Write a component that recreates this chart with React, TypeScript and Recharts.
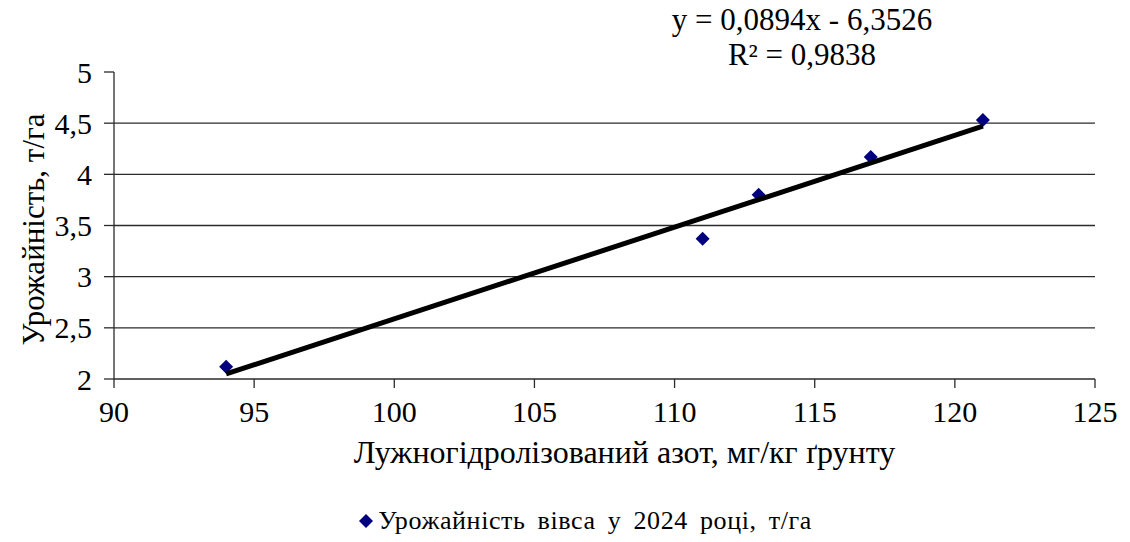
import { ComposedChart, Scatter, XAxis, YAxis, ReferenceLine, Legend } from 'recharts';

// нітроген vs урожайність вівса
const nitrogen = [94, 111, 113, 117, 121];
const oatYield = [2.12, 3.37, 3.8, 4.17, 4.53];
const trendX = [94, 121];
const trendY = [2.05, 4.47];
const xTicks = [90, 95, 100, 105, 110, 115, 120, 125];
const yTicks = [2, 2.5, 3, 3.5, 4, 4.5, 5];
const gridLines = [2.5, 3, 3.5, 4, 4.5];
const seriesName = 'Урожайність вівса у 2024 році, т/га';
const xTitle = 'Лужногідролізований азот, мг/кг ґрунту';
const yTitle = 'Урожайність, т/га';
const equation = 'y = 0,0894x - 6,3526';
const rSquared = 'R² = 0,9838';

const points = nitrogen.map((x, i) => ({ x, y: oatYield[i] }));
const trend = trendX.map((x, i) => ({ x, y: trendY[i] }));

// serif first, sans fallback if it's not there
const FONT = "'Liberation Serif', 'Times New Roman', 'DejaVu Serif', serif";
const AXIS = '#2b2b2b';

const Diamond = (props: any) => {
  const { cx, cy } = props;
  const r = 7;
  return (
    <path
      d={`M${cx},${cy - r} L${cx + r},${cy} L${cx},${cy + r} L${cx - r},${cy} Z`}
      fill="#000080"
    />
  );
};

const NoDot = () => <g />;

const fmt = (v: number) => String(v).replace('.', ',');

const YTitle = (props: any) => {
  const vb = props.viewBox || { x: 0, y: 72, height: 307 };
  const cx = vb.x + 33;
  const cy = vb.y + vb.height / 2 + 4;
  return (
    <text
      x={cx}
      y={cy}
      transform={`rotate(-90, ${cx}, ${cy})`}
      textAnchor="middle"
      dominantBaseline="central"
      style={{ fontFamily: FONT }}
      fontSize={31}
      fill="#000"
    >
      {yTitle}
    </text>
  );
};

const XTitle = (props: any) => {
  const vb = props.viewBox || { x: 114, y: 379, width: 981 };
  return (
    <text
      x={vb.x + vb.width / 2 + 20}
      y={vb.y + 84}
      textAnchor="middle"
      style={{ fontFamily: FONT }}
      fontSize={32}
      fill="#000"
    >
      {xTitle}
    </text>
  );
};

const LegendBox = () => (
  <div
    style={{
      display: 'flex',
      alignItems: 'center',
      justifyContent: 'center',
      height: 38,
      fontFamily: FONT,
      fontSize: 26,
      color: '#000',
      paddingLeft: 40,
    }}
  >
    <svg width={16} height={16} style={{ marginRight: 4 }}>
      <path d="M8,1 L15,8 L8,15 L1,8 Z" fill="#000080" />
    </svg>
    <span style={{ wordSpacing: 5, letterSpacing: 0.6 }}>{seriesName}</span>
  </div>
);

export default function App() {
  return (
    <div style={{ position: 'absolute', left: 0, top: 0, width: 1130, height: 542, background: '#fff', fontFamily: FONT }}>
      <div
        style={{
          position: 'absolute',
          left: 600,
          top: 2,
          width: 404,
          textAlign: 'center',
          fontFamily: FONT,
          fontSize: 31,
          lineHeight: '35px',
          color: '#000',
          zIndex: 2,
        }}
      >
        <div>{equation}</div>
        <div>{rSquared}</div>
      </div>
      <ComposedChart
        width={1130}
        height={542}
        margin={{ top: 72, right: 35, bottom: 0, left: 0 }}
        style={{ fontFamily: FONT }}
      >
        <XAxis
          type="number"
          dataKey="x"
          domain={[90, 125]}
          ticks={xTicks}
          interval={0}
          allowDataOverflow
          height={125}
          stroke={AXIS}
          strokeWidth={1.3}
          tickSize={9}
          tickMargin={13}
          tick={{ fill: '#000', fontSize: 30, fontFamily: FONT }}
          label={{ content: <XTitle /> }}
        />
        <YAxis
          type="number"
          dataKey="y"
          domain={[2, 5]}
          ticks={yTicks}
          interval={0}
          width={114}
          stroke={AXIS}
          strokeWidth={1.3}
          tickSize={10}
          tickMargin={12}
          tickFormatter={fmt}
          tick={{ fill: '#000', fontSize: 30, fontFamily: FONT }}
          label={{ content: <YTitle /> }}
        />
        {gridLines.map((v) => (
          <ReferenceLine key={v} y={v} stroke={AXIS} strokeWidth={1.3} />
        ))}
        <Legend
          content={<LegendBox />}
          wrapperStyle={{ position: 'absolute', top: 502, left: 0, width: 1130, height: 38 }}
        />
        <Scatter
          name={seriesName}
          data={points}
          shape={<Diamond />}
          fill="#000080"
          isAnimationActive={false}
        />
        <Scatter
          name="trend"
          legendType="none"
          data={trend}
          line={{ stroke: '#000', strokeWidth: 5 }}
          shape={<NoDot />}
          isAnimationActive={false}
        />
      </ComposedChart>
    </div>
  );
}
